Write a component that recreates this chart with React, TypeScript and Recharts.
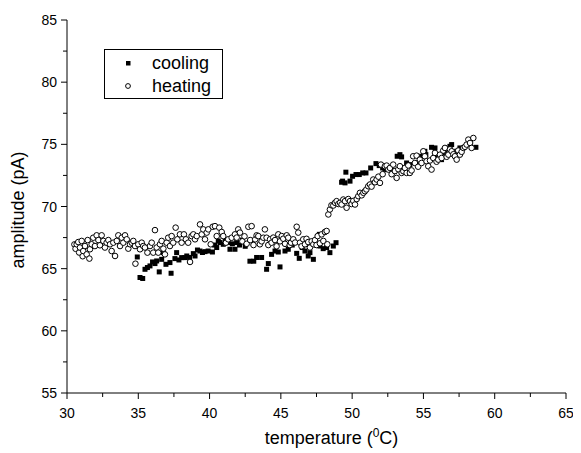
import React from 'react'
import { ScatterChart, Scatter, XAxis, YAxis, Legend } from 'recharts'

const FONT = '"Liberation Sans", Arial, sans-serif'

// cooling run (filled squares)
const coolingTemp = [
  34.93, 35.12, 35.31, 35.47, 35.64, 35.82, 36.0, 36.17, 36.29, 36.47, 36.64, 36.76, 36.94, 37.22, 37.3,
  37.57, 37.69, 37.85, 38.04, 38.27, 38.4, 38.6, 38.86, 38.98, 39.15, 39.33, 39.5, 39.68, 39.9, 40.2,
  40.35, 40.5, 40.61, 40.73, 40.96, 41.1, 41.3, 41.43, 41.6, 41.78, 41.9, 42.1, 42.3, 42.5, 42.83,
  43.1, 43.3, 43.65, 44.0, 44.12, 44.35, 44.59, 44.82, 44.94, 45.29, 45.52, 45.8, 46.11, 46.29, 46.5,
  46.69, 46.92, 47.04, 47.28, 47.5, 47.7, 47.74, 47.97, 48.21, 48.44, 48.68, 48.87,
  49.26, 49.33, 49.5, 49.56, 49.85, 50.03, 50.27, 50.5, 50.74, 50.97, 51.3, 51.67, 51.9, 52.14, 52.3,
  52.77, 52.95, 53.16, 53.35, 53.47, 53.82, 54.05, 54.57, 54.75, 55.1, 55.17, 55.57, 55.81, 56.04,
  56.27, 56.51, 56.86, 56.98, 57.33, 57.56, 58.68,
]
const coolingAmp = [
  65.94, 64.29, 64.21, 64.95, 65.09, 65.22, 65.54, 65.41, 65.62, 64.74, 65.75, 66.29, 65.35, 65.49, 64.63,
  65.81, 66.29, 65.7, 65.89, 65.89, 66.02, 65.9, 66.21, 66.02, 66.5, 66.42, 66.3, 66.37, 66.42, 66.34,
  66.9, 66.7, 67.23, 67.1, 66.96, 67.3, 67.1, 66.56, 67.0, 66.56, 67.1, 66.9, 67.3, 66.8, 65.6,
  65.6, 65.9, 65.9, 64.95, 65.41, 66.15, 66.42, 66.34, 65.14, 66.42, 66.56, 66.9, 66.23, 65.83, 66.7,
  66.42, 66.02, 66.29, 65.75, 66.9, 67.76, 66.82, 66.61, 66.7, 66.29, 66.82, 67.09,
  71.95, 72.04, 71.9, 72.76, 72.04, 72.43, 72.57, 72.57, 72.7, 72.7, 73.1, 73.45, 73.29, 73.1, 72.97,
  72.92, 72.84, 74.04, 74.17, 73.99, 73.5, 73.37, 73.5, 74.04, 74.44, 74.17, 74.76, 74.71, 74.17,
  73.77, 74.31, 74.84, 74.98, 74.44, 74.71, 74.76,
]

// heating run (open circles)
const heatingTemp = [
  30.52, 30.6, 30.68, 30.79, 30.85, 30.91, 31.03, 31.1, 31.14, 31.26, 31.38, 31.45, 31.57, 31.61, 31.73,
  31.84, 31.96, 32.08, 32.2, 32.31, 32.43, 32.55, 32.66, 32.78, 32.9, 33.02, 33.13, 33.25, 33.37, 33.49,
  33.6, 33.72, 33.84, 33.95, 34.07, 34.19, 34.3, 34.42, 34.54, 34.65, 34.77, 34.8, 35.0, 35.12, 35.24,
  35.35, 35.47, 35.64, 35.82, 35.94, 36.05, 36.17, 36.29, 36.4, 36.52, 36.64, 36.76, 36.87, 36.99, 37.1,
  37.22, 37.34, 37.45, 37.62, 37.74, 37.92, 38.04, 38.2, 38.34, 38.5, 38.63, 38.74, 38.86, 38.98, 39.1,
  39.33, 39.45, 39.56, 39.68, 39.8, 39.91, 40.08, 40.22, 40.38, 40.5, 40.68, 40.85, 40.96, 41.15, 41.31,
  41.55, 41.78, 41.9, 42.01, 42.13, 42.3, 42.45, 42.6, 42.72, 42.85, 42.95, 43.08, 43.2, 43.3, 43.42,
  43.53, 43.65, 43.77, 43.88, 44.0, 44.12, 44.24, 44.35, 44.47, 44.59, 44.7, 44.82, 44.94, 45.06, 45.17,
  45.29, 45.41, 45.52, 45.62, 45.71, 45.87, 46.0, 46.11, 46.22, 46.34, 46.45, 46.57, 46.69, 46.8, 46.92,
  47.04, 47.16, 47.28, 47.39, 47.5, 47.58, 47.74, 47.86, 47.98, 48.09, 48.21, 48.26,
  48.33, 48.44, 48.55, 48.68, 48.8, 48.91, 49.03, 49.15, 49.26, 49.38, 49.5, 49.61, 49.73, 49.85, 49.96,
  50.08, 50.2, 50.32, 50.43, 50.55, 50.67, 50.79, 50.9, 51.0, 51.13, 51.25, 51.36, 51.48, 51.6, 51.72,
  51.84, 51.95, 52.02, 52.14, 52.3, 52.42, 52.54, 52.65, 52.77, 52.88, 53.0, 53.12, 53.24, 53.35, 53.47,
  53.59, 53.7, 53.82, 53.94, 54.05, 54.17, 54.28, 54.4, 54.52, 54.63, 54.75, 54.87, 54.99, 55.1, 55.22,
  55.34, 55.46, 55.57, 55.69, 55.81, 55.92, 56.04, 56.16, 56.28, 56.39, 56.51, 56.63, 56.75, 56.86, 56.98,
  57.1, 57.21, 57.33, 57.44, 57.56, 57.68, 57.8, 57.91, 58.03, 58.15, 58.27, 58.38, 58.5,
]
const heatingAmp = [
  66.95, 66.6, 66.96, 67.14, 66.3, 66.7, 67.23, 66.0, 66.42, 66.82, 66.15, 67.3, 65.81, 66.56, 66.96,
  67.49, 66.82, 67.68, 67.3, 66.88, 67.68, 67.23, 66.7, 67.09, 67.3, 66.96, 66.42, 67.09, 66.02, 67.23,
  67.68, 66.82, 67.49, 67.09, 67.68, 67.36, 66.61, 66.96, 67.09, 67.23, 66.82, 65.4, 66.96, 66.56, 67.09,
  66.82, 66.7, 66.29, 66.82, 67.09, 66.29, 68.1, 66.7, 66.29, 66.96, 67.23, 66.61, 66.15, 67.09, 67.49,
  66.82, 67.62, 67.09, 68.3, 67.36, 67.76, 67.09, 67.76, 67.36, 67.09, 65.54, 67.62, 67.76, 67.36, 67.62,
  68.56, 67.76, 68.16, 67.36, 67.9, 68.16, 66.96, 68.37, 68.42, 67.62, 68.3, 67.95, 67.62, 67.09, 67.36,
  67.49, 67.76, 67.5, 68.16, 67.9, 67.2, 67.6, 67.0, 68.37, 67.3, 68.42, 66.9, 67.36, 67.68, 67.62,
  66.96, 67.2, 67.49, 68.16, 67.49, 66.9, 67.36, 67.09, 67.5, 67.3, 66.8, 67.76, 67.2, 67.62, 67.41,
  67.0, 67.68, 67.49, 66.9, 67.09, 67.36, 67.1, 68.37, 67.9, 67.09, 66.8, 67.36, 66.96, 67.4, 67.14,
  66.7, 67.2, 66.96, 67.3, 66.9, 67.62, 67.04, 67.76, 67.23, 67.95, 68.03, 66.96,
  69.36, 69.76, 70.1, 70.08, 70.3, 70.43, 70.2, 70.3, 70.16, 70.56, 70.43, 69.9, 70.6, 70.43, 70.2,
  70.45, 70.16, 70.6, 70.83, 71.1, 70.9, 71.1, 71.23, 71.37, 71.63, 71.77, 71.6, 72.17, 71.95, 72.17,
  72.4, 71.9, 73.37, 72.6, 73.24, 73.29, 72.97, 73.1, 72.6, 73.37, 72.85, 72.3, 73.0, 73.24, 72.7,
  72.84, 73.1, 72.7, 73.3, 72.7, 72.9, 74.04, 73.5, 74.09, 73.2, 73.77, 73.5, 74.44, 74.04, 73.64,
  73.24, 73.7, 72.97, 73.9, 74.31, 73.6, 73.77, 74.17, 73.9, 74.5, 74.71, 74.0, 74.17, 74.6, 74.44,
  74.2, 74.04, 73.77, 74.5, 74.17, 74.4, 74.71, 74.8, 74.98, 75.38, 75.11, 74.71, 75.51,
]

const xTicks = [30, 32.5, 35, 37.5, 40, 42.5, 45, 47.5, 50, 52.5, 55, 57.5, 60, 62.5, 65]
const yTicks = [55, 57.5, 60, 62.5, 65, 67.5, 70, 72.5, 75, 77.5, 80, 82.5, 85]

const coolingData = coolingTemp.map((t, i) => ({ t, a: coolingAmp[i] }))
const heatingData = heatingTemp.map((t, i) => ({ t, a: heatingAmp[i] }))

// Origin-style markers: small filled square, small open circle
function SquareDot({ cx, cy }: any) {
  return <rect x={cx - 2.5} y={cy - 2.5} width={5} height={5} fill="#000" />
}

function CircleDot({ cx, cy }: any) {
  return <circle cx={cx} cy={cy} r={2.8} fill="#fff" stroke="#000" strokeWidth={1} />
}

function XTick({ x, y, payload }: any) {
  const major = payload.value % 5 === 0
  return (
    <g>
      <line x1={x} y1={y} x2={x} y2={y + (major ? 6 : 4)} stroke="#000" />
      {major && (
        <text x={x} y={y + 25} textAnchor="middle" fontSize={14} fontFamily={FONT} fill="#000">
          {payload.value}
        </text>
      )}
    </g>
  )
}

function YTick({ x, y, payload }: any) {
  const major = payload.value % 5 === 0
  return (
    <g>
      <line x1={x} y1={y} x2={x - (major ? 6 : 4)} y2={y} stroke="#000" />
      {major && (
        <text x={x - 10} y={y + 5} textAnchor="end" fontSize={14} fontFamily={FONT} fill="#000">
          {payload.value}
        </text>
      )}
    </g>
  )
}

function XTitle({ viewBox }: any) {
  const cx = viewBox.x + viewBox.width / 2 + 15
  return (
    <text x={cx} y={viewBox.y + 51} textAnchor="middle" fontSize={18} fontFamily={FONT} fill="#000">
      <tspan>temperature (</tspan>
      <tspan dy={-7} fontSize={12}>0</tspan>
      <tspan dy={7}>C)</tspan>
    </text>
  )
}

function YTitle({ viewBox }: any) {
  const bx = viewBox.x + 7
  const cy = 202
  return (
    <text
      x={bx}
      y={cy}
      transform={`rotate(-90, ${bx}, ${cy})`}
      textAnchor="middle"
      fontSize={18}
      fontFamily={FONT}
      fill="#000"
    >
      amplitude (pA)
    </text>
  )
}

function LegendBox() {
  return (
    <div
      style={{
        width: 117,
        height: 48,
        border: '1px solid #000',
        background: '#fff',
        position: 'relative',
      }}
    >
      <svg width={117} height={48} style={{ position: 'absolute', left: 0, top: 0 }}>
        <rect x={21} y={11} width={4.5} height={4.5} fill="#000" />
        <circle cx={23} cy={36} r={2.4} fill="#fff" stroke="#000" />
        <text x={47} y={19} fontSize={18} fontFamily={FONT} fill="#000">cooling</text>
        <text x={47} y={42} fontSize={18} fontFamily={FONT} fill="#000">heating</text>
      </svg>
    </div>
  )
}

export default function App() {
  return (
    <ScatterChart
      width={573}
      height={445}
      margin={{ top: 12, right: 15, bottom: 20, left: 9 }}
      style={{ background: '#fff' }}
    >
      <XAxis
        type="number"
        dataKey="t"
        domain={[30, 65]}
        ticks={xTicks}
        interval={0}
        tickSize={0}
        tickMargin={0}
        tick={<XTick />}
        height={40}
        axisLine={{ stroke: '#000' }}
        allowDataOverflow
        label={<XTitle />}
      />
      <YAxis
        type="number"
        dataKey="a"
        domain={[55, 85]}
        ticks={yTicks}
        interval={0}
        tickSize={0}
        tickMargin={0}
        tick={<YTick />}
        width={50}
        axisLine={{ stroke: '#000' }}
        allowDataOverflow
        label={<YTitle />}
      />
      <Legend
        layout="vertical"
        align="center"
        verticalAlign="middle"
        wrapperStyle={{ position: 'absolute', top: 41, left: 96, width: 119, height: 50 }}
        content={<LegendBox />}
      />
      <Scatter
        name="cooling"
        data={coolingData}
        shape={<SquareDot />}
        fill="#000"
        isAnimationActive={false}
      />
      <Scatter
        name="heating"
        data={heatingData}
        shape={<CircleDot />}
        fill="#fff"
        stroke="#000"
        isAnimationActive={false}
      />
    </ScatterChart>
  )
}
